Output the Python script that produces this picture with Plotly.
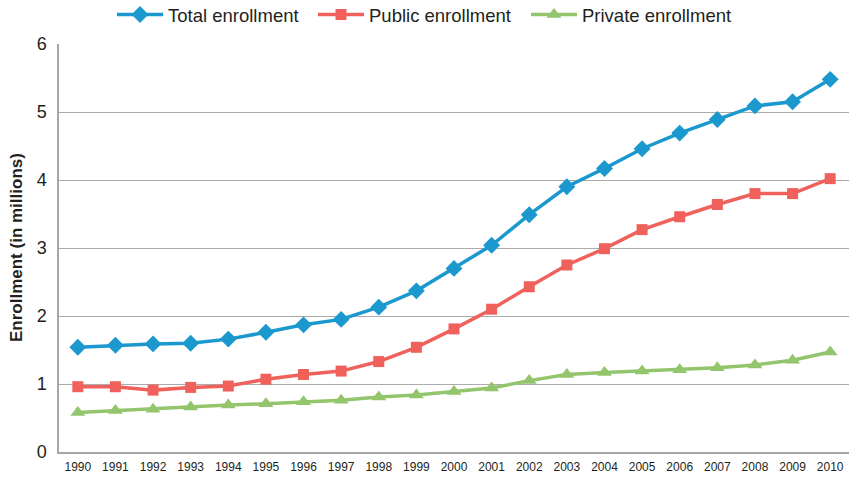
import plotly.graph_objects as go

years = [str(y) for y in range(1990, 2011)]
total = [1.54, 1.57, 1.59, 1.60, 1.66, 1.76, 1.87, 1.95, 2.13, 2.37, 2.70,
         3.04, 3.49, 3.90, 4.17, 4.46, 4.69, 4.89, 5.09, 5.15, 5.48]
public = [0.96, 0.96, 0.91, 0.95, 0.97, 1.07, 1.14, 1.19, 1.33, 1.54, 1.81,
          2.10, 2.43, 2.75, 2.99, 3.27, 3.46, 3.64, 3.80, 3.80, 4.02]
private = [0.58, 0.61, 0.63, 0.66, 0.69, 0.71, 0.74, 0.76, 0.81, 0.84, 0.89,
           0.94, 1.05, 1.14, 1.17, 1.19, 1.21, 1.24, 1.28, 1.35, 1.47]

W, H = 852, 479
L, R, T, B = 59, 3, 44, 27
PW = W - L - R
PH = H - T - B


def px(xp):
    return (xp - L) / PW


fig = go.Figure()
fig.add_trace(go.Scatter(x=years, y=total, name="Total enrollment", mode="lines+markers",
                         line=dict(color="#1B98CE", width=3.5),
                         marker=dict(symbol="diamond", size=13, color="#1B98CE"),
                         legend="legend"))
fig.add_trace(go.Scatter(x=years, y=public, name="Public enrollment", mode="lines+markers",
                         line=dict(color="#EF615A", width=3.5),
                         marker=dict(symbol="square", size=11, color="#EF615A"),
                         legend="legend2"))
fig.add_trace(go.Scatter(x=years, y=private, name="Private enrollment", mode="lines+markers",
                         line=dict(color="#93C56C", width=3.5),
                         marker=dict(symbol="triangle-up", size=13, color="#93C56C"),
                         legend="legend3"))

leg_common = dict(orientation="h", xanchor="left", yanchor="middle",
                  y=1 + (T - 15) / PH, font=dict(size=18.5),
                  bgcolor="rgba(0,0,0,0)", itemwidth=46)

fig.update_layout(
    width=W, height=H,
    margin=dict(l=L, r=R, t=T, b=B, autoexpand=False),
    paper_bgcolor="white", plot_bgcolor="white",
    font=dict(family="Liberation Sans, Arial, sans-serif", color="#231F20"),
    legend=dict(x=px(112), **leg_common),
    legend2=dict(x=px(313), **leg_common),
    legend3=dict(x=px(526), **leg_common),
    showlegend=True,
    annotations=[dict(text="<b>Enrollment (in millions)</b>", textangle=-90,
                      xref="paper", yref="paper", x=px(16), y=0.5,
                      xanchor="center", yanchor="middle", showarrow=False,
                      font=dict(size=17))],
)
fig.update_xaxes(type="category", range=[-0.5, 20.5], showgrid=False,
                 showline=True, linecolor="#A6A6A6", linewidth=1.5,
                 ticks="", tickfont=dict(size=12), ticklabelstandoff=3,
                 automargin=False, fixedrange=True)
fig.update_yaxes(range=[0, 6], dtick=1, showgrid=True, gridcolor="#ABABAB", gridwidth=1.2,
                 showline=True, linecolor="#A6A6A6", linewidth=1.5, zeroline=False,
                 ticks="", tickfont=dict(size=18), ticklabelstandoff=7, automargin=False)

fig.write_html("out.html", config={"displayModeBar": False},
               post_script="document.body.style.margin='0';document.body.style.padding='0';")
